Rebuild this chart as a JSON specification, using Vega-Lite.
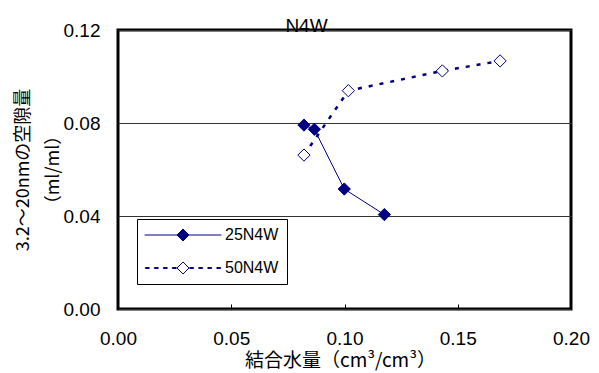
{
  "$schema": "https://vega.github.io/schema/vega-lite/v6.json",
  "width": 453,
  "height": 279,
  "autosize": {"type": "none"},
  "padding": {"left": 118, "top": 30, "right": 28, "bottom": 64},
  "background": "white",
  "config": {
    "view": {"stroke": "black", "strokeWidth": 3},
    "font": "Liberation Sans"
  },
  "title": {
    "text": "N4W",
    "fontSize": 19,
    "fontWeight": "normal",
    "font": "Liberation Sans",
    "color": "black",
    "dx": -38,
    "dy": 30,
    "offset": 0,
    "baseline": "alphabetic",
    "frame": "group"
  },
  "data": {
    "values": [
      {"series": "25N4W", "x": 0.0821, "y": 0.0791},
      {"series": "25N4W", "x": 0.0867, "y": 0.0773},
      {"series": "25N4W", "x": 0.0999, "y": 0.0516},
      {"series": "25N4W", "x": 0.1176, "y": 0.0406},
      {"series": "50N4W", "x": 0.0821, "y": 0.0662},
      {"series": "50N4W", "x": 0.1017, "y": 0.0939},
      {"series": "50N4W", "x": 0.1432, "y": 0.1024},
      {"series": "50N4W", "x": 0.1687, "y": 0.1067}
    ]
  },
  "encoding": {
    "x": {
      "field": "x",
      "type": "quantitative",
      "scale": {"domain": [0, 0.2], "nice": false},
      "axis": {
        "values": [0, 0.05, 0.1, 0.15, 0.2],
        "format": ".2f",
        "grid": false,
        "domain": false,
        "tickSize": -5,
        "tickColor": "black",
        "tickWidth": 1,
        "labelPadding": 25,
        "labelFontSize": 19,
        "labelColor": "black",
        "labelFont": "Liberation Sans",
        "labelFlush": false,
        "title": "結合水量（cm³/cm³）",
        "titleFont": "Noto Sans CJK JP",
        "titleFontSize": 19,
        "titleFontWeight": "normal",
        "titleColor": "black",
        "titlePadding": 3,
        "titleX": 222
      }
    },
    "y": {
      "field": "y",
      "type": "quantitative",
      "scale": {"domain": [0, 0.12], "nice": false},
      "axis": {
        "values": [0, 0.04, 0.08, 0.12],
        "format": ".2f",
        "grid": true,
        "gridColor": "#333333",
        "gridWidth": 1,
        "gridOpacity": 1,
        "domain": false,
        "ticks": false,
        "labelPadding": 18,
        "labelFontSize": 19,
        "labelColor": "black",
        "labelFont": "Liberation Sans",
        "title": ["3.2～20nmの空隙量", "（ml/ml）"],
        "titleFont": "Noto Sans CJK JP",
        "titleFontSize": 18,
        "titleFontWeight": "normal",
        "titleColor": "black",
        "titlePadding": 1,
        "titleLineHeight": 30
      }
    }
  },
  "layer": [
    {
      "transform": [{"filter": "datum.series === '25N4W'"}],
      "mark": {"type": "line", "color": "#000080", "strokeWidth": 1}
    },
    {
      "transform": [{"filter": "datum.series === '50N4W'"}],
      "mark": {"type": "line", "color": "#000080", "strokeWidth": 2.5, "strokeDash": [4, 7]}
    },
    {
      "mark": {"type": "point", "shape": "diamond", "size": 150, "filled": true, "stroke": "#000080", "strokeWidth": 1, "opacity": 1},
      "encoding": {
        "fill": {
          "field": "series",
          "type": "nominal",
          "scale": {"domain": ["25N4W", "50N4W"], "range": ["#000080", "white"]},
          "legend": {
            "orient": "none",
            "legendX": 19,
            "legendY": 189,
            "title": null,
            "direction": "vertical",
            "strokeColor": "black",
            "fillColor": "white",
            "padding": 8,
            "rowPadding": 17,
            "symbolSize": 144,
            "symbolOffset": 30,
            "labelOffset": 34,
            "labelFontSize": 16,
            "labelFont": "Liberation Sans",
            "labelColor": "black",
            "symbolStrokeColor": "#000080",
            "symbolStrokeWidth": 1,
            "symbolOpacity": 1,
            "encode": {
              "symbols": {
                "update": {
                  "shape": {"signal": "datum.label === '25N4W' ? 'M-6.4,0H6.4M0,-1L1,0L0,1L-1,0Z' : 'M-6.28,-0.08H-5.62V0.08H-6.28ZM-4.78,-0.08H-4.12V0.08H-4.78ZM-3.28,-0.08H-2.62V0.08H-3.28ZM-1.78,-0.08H-1.12V0.08H-1.78ZM1.12,-0.08H1.78V0.08H1.12ZM2.62,-0.08H3.28V0.08H2.62ZM4.12,-0.08H4.78V0.08H4.12ZM5.62,-0.08H6.28V0.08H5.62ZM0,-1L1,0L0,1L-1,0Z'"}
                }
              }
            }
          }
        }
      }
    }
  ]
}
